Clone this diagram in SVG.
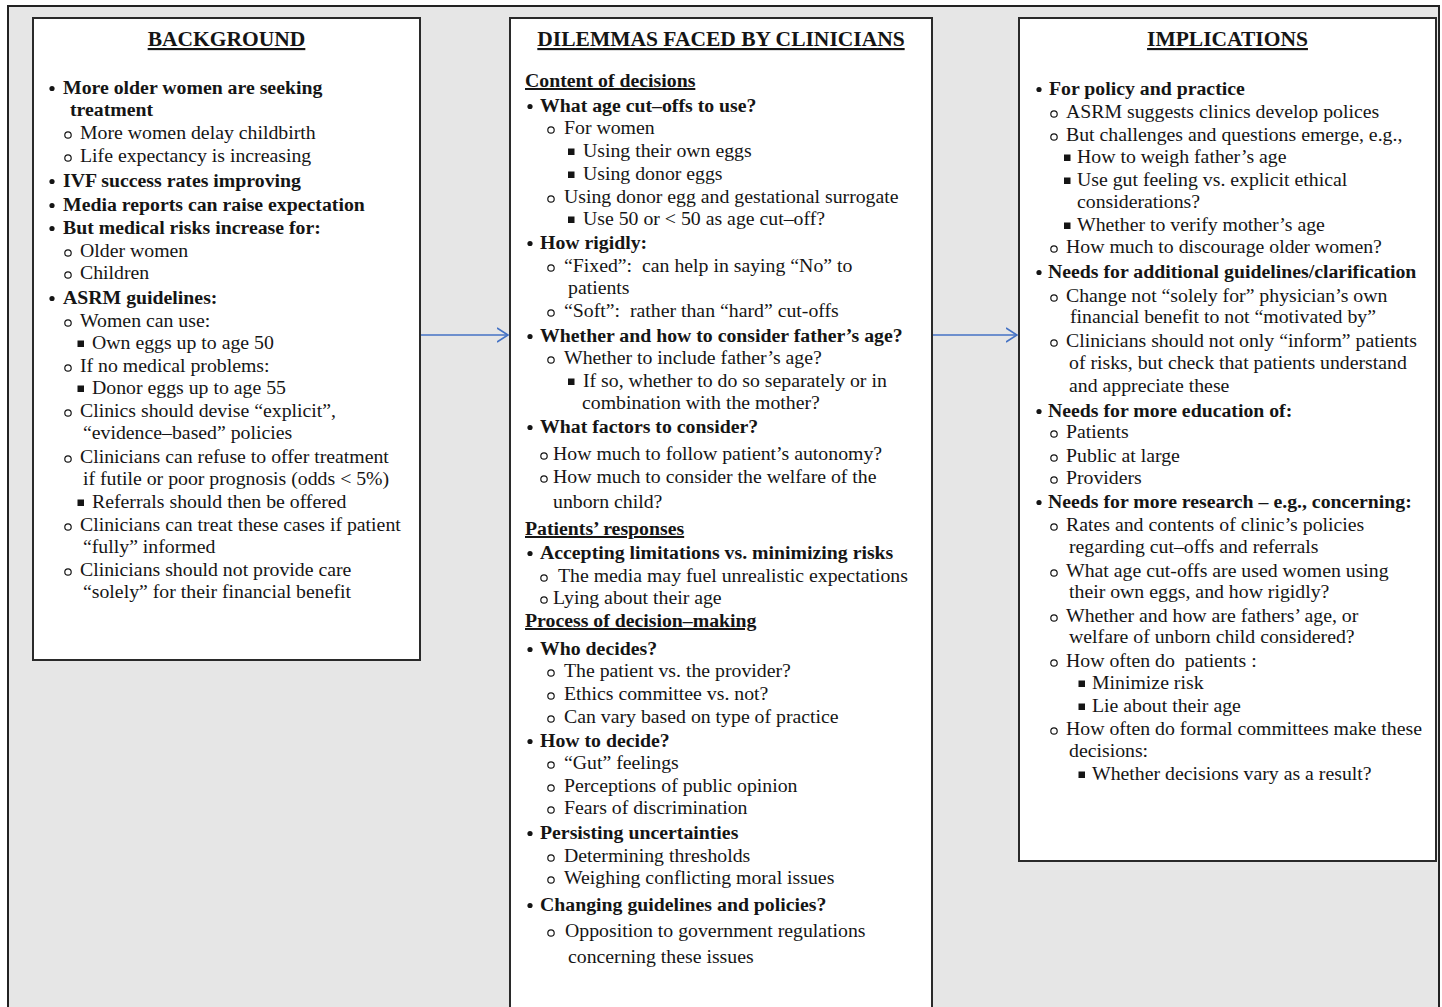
<svg xmlns="http://www.w3.org/2000/svg" width="1442" height="1007" viewBox="0 0 1442 1007">
<style>
text { font-family: "Liberation Serif", "Times New Roman", serif; font-size: 19.8px; fill: #151515; }
.b { font-weight: bold; }
.h { font-weight: bold; font-size: 21.5px; text-decoration: underline; text-anchor: middle; }
.u { font-weight: bold; text-decoration: underline; }
.frame { fill: #e6e6e6; stroke: #222; stroke-width: 2; }
.box { fill: #fff; stroke: #2a2a2a; stroke-width: 2; }
.dot { fill: #151515; }
.ring { fill: none; stroke: #151515; stroke-width: 1.2; }
.sq { fill: #151515; }
.conn { fill: none; stroke: #4472c4; stroke-width: 1.4; }
</style>
<defs>
<marker id="arr" markerUnits="userSpaceOnUse" markerWidth="16" markerHeight="18" refX="11" refY="8" orient="auto">
<path d="M0,1 L11,8 L0,15" fill="none" stroke="#4472c4" stroke-width="1.6"/>
</marker>
</defs>

<rect class="frame" x="8" y="6" width="1431" height="1020"/>

<g id="node-background">
<rect class="box" x="33" y="18" width="387" height="642"/>
<text class="h" x="226.5" y="46">BACKGROUND</text>
<circle class="dot" cx="52" cy="88.5" r="2.6"/><text class="b" x="63" y="94">More older women are seeking</text>
<text class="b" x="70" y="116">treatment</text>
<circle class="ring" cx="68" cy="135" r="3.2"/><text x="80" y="139">More women delay childbirth</text>
<circle class="ring" cx="68" cy="158" r="3.2"/><text x="80" y="162">Life expectancy is increasing</text>
<circle class="dot" cx="52" cy="181.5" r="2.6"/><text class="b" x="63" y="187">IVF success rates improving</text>
<circle class="dot" cx="52" cy="205.5" r="2.6"/><text class="b" x="63" y="211">Media reports can raise expectation</text>
<circle class="dot" cx="52" cy="228.5" r="2.6"/><text class="b" x="63" y="234">But medical risks increase for:</text>
<circle class="ring" cx="68" cy="253" r="3.2"/><text x="80" y="257">Older women</text>
<circle class="ring" cx="68" cy="275" r="3.2"/><text x="80" y="279">Children</text>
<circle class="dot" cx="52" cy="298.5" r="2.6"/><text class="b" x="63" y="304">ASRM guidelines:</text>
<circle class="ring" cx="68" cy="323" r="3.2"/><text x="80" y="327">Women can use:</text>
<rect class="sq" x="77.5" y="340.5" width="6.5" height="6.5"/><text x="92" y="349">Own eggs up to age 50</text>
<circle class="ring" cx="68" cy="368" r="3.2"/><text x="80" y="372">If no medical problems:</text>
<rect class="sq" x="77.5" y="385.5" width="6.5" height="6.5"/><text x="92" y="394">Donor eggs up to age 55</text>
<circle class="ring" cx="68" cy="413" r="3.2"/><text x="80" y="417">Clinics should devise “explicit”,</text>
<text x="83" y="439">“evidence–based” policies</text>
<circle class="ring" cx="68" cy="459" r="3.2"/><text x="80" y="463">Clinicians can refuse to offer treatment</text>
<text x="83" y="485">if futile or poor prognosis (odds &lt; 5%)</text>
<rect class="sq" x="77.5" y="499.5" width="6.5" height="6.5"/><text x="92" y="508">Referrals should then be offered</text>
<circle class="ring" cx="68" cy="527" r="3.2"/><text x="80" y="531">Clinicians can treat these cases if patient</text>
<text x="83" y="553">“fully” informed</text>
<circle class="ring" cx="68" cy="572" r="3.2"/><text x="80" y="576">Clinicians should not provide care</text>
<text x="83" y="598">“solely” for their financial benefit</text>
</g>

<g id="node-dilemmas">
<rect class="box" x="510" y="18" width="422" height="1010"/>
<text class="h" x="721" y="46">DILEMMAS FACED BY CLINICIANS</text>
<text class="u" x="525" y="87">Content of decisions</text>
<circle class="dot" cx="530" cy="106.5" r="2.6"/><text class="b" x="540" y="112">What age cut–offs to use?</text>
<circle class="ring" cx="551" cy="130" r="3.2"/><text x="564" y="134">For women</text>
<rect class="sq" x="568" y="148.5" width="6.5" height="6.5"/><text x="583" y="157">Using their own eggs</text>
<rect class="sq" x="568" y="171.5" width="6.5" height="6.5"/><text x="583" y="180">Using donor eggs</text>
<circle class="ring" cx="551" cy="199" r="3.2"/><text x="564" y="203">Using donor egg and gestational surrogate</text>
<rect class="sq" x="568" y="216.5" width="6.5" height="6.5"/><text x="583" y="225">Use 50 or &lt; 50 as age cut–off?</text>
<circle class="dot" cx="530" cy="243.5" r="2.6"/><text class="b" x="540" y="249">How rigidly:</text>
<circle class="ring" cx="551" cy="268" r="3.2"/><text x="564" y="272">“Fixed”:&#160; can help in saying “No” to</text>
<text x="568" y="294">patients</text>
<circle class="ring" cx="551" cy="313" r="3.2"/><text x="564" y="317">“Soft”:&#160; rather than “hard” cut-offs</text>
<circle class="dot" cx="530" cy="336.5" r="2.6"/><text class="b" x="540" y="342">Whether and how to consider father’s age?</text>
<circle class="ring" cx="551" cy="360" r="3.2"/><text x="564" y="364">Whether to include father’s age?</text>
<rect class="sq" x="568" y="378.5" width="6.5" height="6.5"/><text x="583" y="387">If so, whether to do so separately or in</text>
<text x="582" y="409">combination with the mother?</text>
<circle class="dot" cx="530" cy="427.5" r="2.6"/><text class="b" x="540" y="433">What factors to consider?</text>
<circle class="ring" cx="544" cy="456" r="3.2"/><text x="553" y="460">How much to follow patient’s autonomy?</text>
<circle class="ring" cx="544" cy="479" r="3.2"/><text x="553" y="483">How much to consider the welfare of the</text>
<text x="553" y="508">unborn child?</text>
<text class="u" x="525" y="535">Patients’ responses</text>
<circle class="dot" cx="530" cy="553.5" r="2.6"/><text class="b" x="540" y="559">Accepting limitations vs. minimizing risks</text>
<circle class="ring" cx="544" cy="578" r="3.2"/><text x="558" y="582">The media may fuel unrealistic expectations</text>
<circle class="ring" cx="544" cy="600" r="3.2"/><text x="553" y="604">Lying about their age</text>
<text class="u" x="525" y="627">Process of decision–making</text>
<circle class="dot" cx="530" cy="649.5" r="2.6"/><text class="b" x="540" y="655">Who decides?</text>
<circle class="ring" cx="551" cy="673" r="3.2"/><text x="564" y="677">The patient vs. the provider?</text>
<circle class="ring" cx="551" cy="696" r="3.2"/><text x="564" y="700">Ethics committee vs. not?</text>
<circle class="ring" cx="551" cy="719" r="3.2"/><text x="564" y="723">Can vary based on type of practice</text>
<circle class="dot" cx="530" cy="741.5" r="2.6"/><text class="b" x="540" y="747">How to decide?</text>
<circle class="ring" cx="551" cy="765" r="3.2"/><text x="564" y="769">“Gut” feelings</text>
<circle class="ring" cx="551" cy="788" r="3.2"/><text x="564" y="792">Perceptions of public opinion</text>
<circle class="ring" cx="551" cy="810" r="3.2"/><text x="564" y="814">Fears of discrimination</text>
<circle class="dot" cx="530" cy="833.5" r="2.6"/><text class="b" x="540" y="839">Persisting uncertainties</text>
<circle class="ring" cx="551" cy="858" r="3.2"/><text x="564" y="862">Determining thresholds</text>
<circle class="ring" cx="551" cy="880" r="3.2"/><text x="564" y="884">Weighing conflicting moral issues</text>
<circle class="dot" cx="530" cy="905.5" r="2.6"/><text class="b" x="540" y="911">Changing guidelines and policies?</text>
<circle class="ring" cx="551" cy="933" r="3.2"/><text x="565" y="937">Opposition to government regulations</text>
<text x="568" y="963">concerning these issues</text>
</g>

<g id="node-implications">
<rect class="box" x="1019" y="18" width="417" height="843"/>
<text class="h" x="1227.5" y="46">IMPLICATIONS</text>
<circle class="dot" cx="1039" cy="89.5" r="2.6"/><text class="b" x="1049" y="95">For policy and practice</text>
<circle class="ring" cx="1054" cy="114" r="3.2"/><text x="1066" y="118">ASRM suggests clinics develop polices</text>
<circle class="ring" cx="1054" cy="137" r="3.2"/><text x="1066" y="141">But challenges and questions emerge, e.g.,</text>
<rect class="sq" x="1064" y="154.5" width="6.5" height="6.5"/><text x="1077" y="163">How to weigh father’s age</text>
<rect class="sq" x="1064" y="177.5" width="6.5" height="6.5"/><text x="1077" y="186">Use gut feeling vs. explicit ethical</text>
<text x="1077" y="208">considerations?</text>
<rect class="sq" x="1064" y="222.5" width="6.5" height="6.5"/><text x="1077" y="231">Whether to verify mother’s age</text>
<circle class="ring" cx="1054" cy="249" r="3.2"/><text x="1066" y="253">How much to discourage older women?</text>
<circle class="dot" cx="1039" cy="272.5" r="2.6"/><text class="b" x="1048" y="278">Needs for additional guidelines/clarification</text>
<circle class="ring" cx="1054" cy="298" r="3.2"/><text x="1066" y="302">Change not “solely for” physician’s own</text>
<text x="1070" y="323">financial benefit to not “motivated by”</text>
<circle class="ring" cx="1054" cy="343" r="3.2"/><text x="1066" y="347">Clinicians should not only “inform” patients</text>
<text x="1069" y="369">of risks, but check that patients understand</text>
<text x="1069" y="392">and appreciate these</text>
<circle class="dot" cx="1039" cy="411.5" r="2.6"/><text class="b" x="1048" y="417">Needs for more education of:</text>
<circle class="ring" cx="1054" cy="434" r="3.2"/><text x="1066" y="438">Patients</text>
<circle class="ring" cx="1054" cy="458" r="3.2"/><text x="1066" y="462">Public at large</text>
<circle class="ring" cx="1054" cy="480" r="3.2"/><text x="1066" y="484">Providers</text>
<circle class="dot" cx="1039" cy="502.5" r="2.6"/><text class="b" x="1048" y="508">Needs for more research – e.g., concerning:</text>
<circle class="ring" cx="1054" cy="527" r="3.2"/><text x="1066" y="531">Rates and contents of clinic’s policies</text>
<text x="1069" y="553">regarding cut–offs and referrals</text>
<circle class="ring" cx="1054" cy="573" r="3.2"/><text x="1066" y="577">What age cut-offs are used women using</text>
<text x="1069" y="598">their own eggs, and how rigidly?</text>
<circle class="ring" cx="1054" cy="618" r="3.2"/><text x="1066" y="622">Whether and how are fathers’ age, or</text>
<text x="1069" y="643">welfare of unborn child considered?</text>
<circle class="ring" cx="1054" cy="663" r="3.2"/><text x="1066" y="667">How often do&#160; patients :</text>
<rect class="sq" x="1078.5" y="680.5" width="6.5" height="6.5"/><text x="1092" y="689">Minimize risk</text>
<rect class="sq" x="1078.5" y="703.5" width="6.5" height="6.5"/><text x="1092" y="712">Lie about their age</text>
<circle class="ring" cx="1054" cy="731" r="3.2"/><text x="1066" y="735">How often do formal committees make these</text>
<text x="1069" y="757">decisions:</text>
<rect class="sq" x="1078.5" y="771.5" width="6.5" height="6.5"/><text x="1092" y="780">Whether decisions vary as a result?</text>
</g>

<g id="connectors">
<path class="conn" d="M421,335 L508,335" marker-end="url(#arr)"/>
<path class="conn" d="M933,335 L1017,335" marker-end="url(#arr)"/>
</g>
</svg>
